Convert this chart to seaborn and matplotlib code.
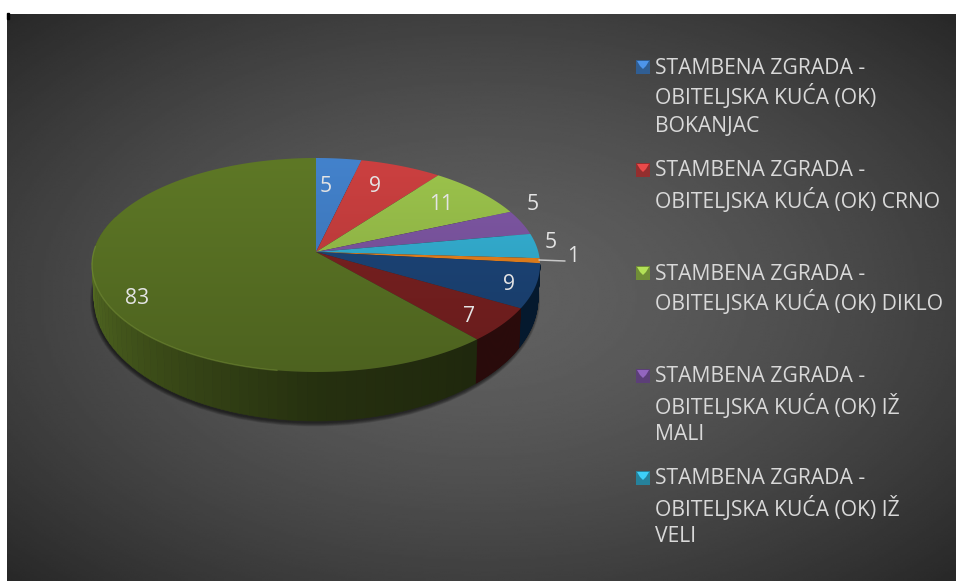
import numpy as np
import matplotlib
matplotlib.use('Agg')
import matplotlib.pyplot as plt
from matplotlib.colors import to_rgb
from matplotlib.patches import Polygon, Ellipse, Rectangle
import seaborn as sns

# data
vrijednosti = [5, 9, 11, 5, 5, 1, 9, 7, 83]
naslovi = [
    'STAMBENA ZGRADA -\nOBITELJSKA KUĆA (OK)\nBOKANJAC',
    'STAMBENA ZGRADA -\nOBITELJSKA KUĆA (OK) CRNO',
    'STAMBENA ZGRADA -\nOBITELJSKA KUĆA (OK) DIKLO',
    'STAMBENA ZGRADA -\nOBITELJSKA KUĆA (OK) IŽ\nMALI',
    'STAMBENA ZGRADA -\nOBITELJSKA KUĆA (OK) IŽ\nVELI',
]
boje = ['#4382CC', '#CC4040', '#9CC44C', '#8058A6', '#35B4D8',
        '#F0861E', '#1D477C', '#7E2222', '#5E7826']
boje_strane = ['#4382CC', '#CC4040', '#9CC44C', '#8058A6', '#35B4D8',
               '#F0861E', '#0E4C8C', '#7E2222', '#5E7826']

# pixel positions of the value labels
label_xy = [(326, 186), (375, 187), (441, 205), (533, 205), (551, 243),
            (573, 257), (509, 285), (469, 317), (137, 299)]
legend_y = [68, 171, 274, 377, 479]

sns.set_theme(style='dark')
plt.rcParams['font.family'] = ['Open Sans', 'DejaVu Sans']
paleta = sns.color_palette(boje)
paleta_strane = sns.color_palette(boje_strane)

fig = plt.figure(figsize=(9.56, 5.81), dpi=100, facecolor='white')
ax = fig.add_axes([0, 0, 1, 1])
ax.set_xlim(0, 956)
ax.set_ylim(581, 0)
ax.axis('off')

# background, radial gradient
xx, yy = np.meshgrid(np.linspace(7, 956, 400), np.linspace(14, 581, 300))
r = np.sqrt(((xx - 480) / 474) ** 2 + ((yy - 297) / 284) ** 2) / np.sqrt(2)
siva = (97 - 57 * np.clip(r, 0, 1) ** 1.5) / 255
ax.imshow(siva, cmap='gray', vmin=0, vmax=1, extent=(7, 956, 581, 14),
          aspect='auto', interpolation='bilinear', zorder=0)
ax.add_patch(Rectangle((7, 13), 2, 6, color='black', zorder=1))

# top and bottom ellipse of the disc, apex is shifted by perspective
cx, cy, rx, ry = 316, 265, 224, 107
bx, by, brx, bry = 316, 298, 222, 123
apex = (316, 252)


def kut(v):
    # share of the total to ellipse angle, with perspective squeeze
    t = np.radians(np.asarray(v, dtype=float) / sum(vrijednosti) * 360)
    return t - np.radians(7) * np.sin(t)


def gore(t):
    return np.column_stack([cx + rx * np.sin(t), cy - ry * np.cos(t)])


def dolje(t):
    return np.column_stack([bx + brx * np.sin(t), by - bry * np.cos(t)])


rubovi = np.concatenate([[0], np.cumsum(vrijednosti)])

# shadow under the disc
for i in range(8):
    ax.add_patch(Ellipse((bx - 1, by + 2), 2 * brx + 6 - i, 2 * bry + 7 - i,
                         color='black', alpha=0.09, lw=0, zorder=2))

# side wall
for i, boja in enumerate(paleta_strane):
    t = np.linspace(kut(rubovi[i]), kut(rubovi[i + 1]), 90)
    t = t[(t >= np.pi / 2 - 0.01) & (t <= 3 * np.pi / 2 + 0.5)]
    for a, b in zip(t[:-1], t[1:]):
        sred = np.degrees((a + b) / 2)
        if sred > 270:
            sred = 270
        sjena = np.interp(sred, [90, 135, 180, 225, 270], [0.33, 0.33, 0.40, 0.62, 0.88])
        p = np.vstack([gore(np.array([a, b])), dolje(np.array([b, a]))])
        ax.add_patch(Polygon(p, closed=True, fc=np.array(boja) * sjena,
                             ec=np.array(boja) * sjena, lw=0.4, zorder=3))

# left part of the wall closes on the ellipse, cover with the top face
grad = np.linspace(1.0, 0.82, 128)[:, None]
for i, boja in enumerate(paleta):
    t = np.linspace(kut(rubovi[i]), kut(rubovi[i + 1]), 200)
    p = np.vstack([[apex], gore(t)])
    slika = np.clip(grad[:, None] * np.array(to_rgb(boja))[None, None, :], 0, 1)
    im = ax.imshow(slika, extent=(cx - rx, cx + rx, cy + ry, cy - ry),
                   aspect='auto', interpolation='bilinear', zorder=4)
    klip = Polygon(p, closed=True, transform=ax.transData, fc='none', ec='none')
    ax.add_patch(klip)
    im.set_clip_path(klip)
ax.set_xlim(0, 956)
ax.set_ylim(581, 0)

# light bevel on the front rim of the top face
t = np.linspace(np.radians(190), np.radians(280), 200)
ax.plot(*gore(t).T, color='#7f9a3c', lw=1.0, alpha=0.45, zorder=5)

# value labels
for v, (x, y) in zip(vrijednosti, label_xy):
    ax.text(x, y, str(v), color='#e4e4e4', fontsize=15.2, ha='center',
            va='center', zorder=6)
ax.plot([539, 565], [260, 261], color='#c8c8c8', lw=1.1, zorder=5)

# legend
for naslov, y0, boja in zip(naslovi, legend_y, paleta):
    ax.add_patch(Rectangle((636, y0 - 8), 14, 14, fc=np.array(boja) * 0.72, ec='none', zorder=5))
    ax.add_patch(Polygon([(637, y0 - 7), (649, y0 - 7), (646, y0 - 2), (643, y0 + 1), (640, y0 - 2)],
                         closed=True, fc=np.clip(np.array(boja) * 1.15, 0, 1), ec='none', zorder=6))
    for k, red in enumerate(naslov.split('\n')):
        ax.text(655, y0 + k * 29, red, color='#d9d9d9', fontsize=15.2,
                ha='left', va='center', zorder=6)

fig.savefig('out.png', dpi=100, facecolor='white')
